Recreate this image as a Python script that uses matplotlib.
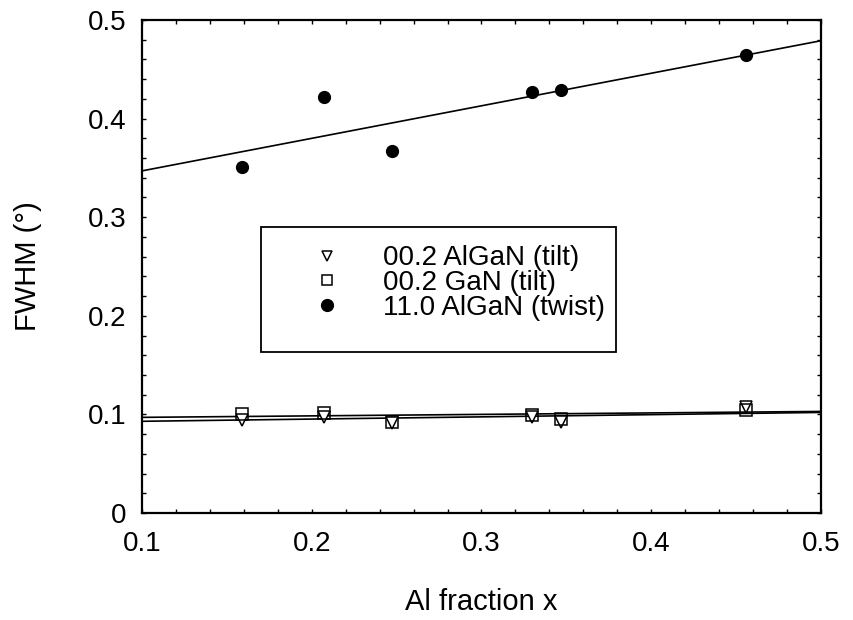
import numpy as np
import matplotlib
matplotlib.use("Agg")
import matplotlib.pyplot as plt
from matplotlib.patches import Rectangle
from matplotlib.ticker import MultipleLocator, FormatStrFormatter

plt.rcParams['font.family'] = ['Liberation Sans', 'DejaVu Sans']

# Al content of the samples
al_x = [0.159, 0.207, 0.2475, 0.330, 0.347, 0.456]

# FWHM of the rocking curves (degrees)
fwhm_algan_tilt = [0.094, 0.097, 0.091, 0.097, 0.092, 0.107]
fwhm_gan_tilt = [0.100, 0.101, 0.092, 0.099, 0.095, 0.104]
fwhm_algan_twist = [0.351, 0.422, 0.367, 0.427, 0.429, 0.465]

# linear fits, value at x = 0.1 and x = 0.5
fit_x = [0.1, 0.5]
fit_algan_tilt = [0.093, 0.102]
fit_gan_tilt = [0.097, 0.103]
fit_algan_twist = [0.347, 0.479]

labels = ['00.2 AlGaN (tilt)', '00.2 GaN (tilt)', '11.0 AlGaN (twist)']

fig = plt.figure(figsize=(8.54, 6.2), dpi=100)
ax = fig.add_axes([0.1663, 0.1726, 0.795, 0.7951])

for fy in (fit_algan_tilt, fit_gan_tilt, fit_algan_twist):
    ax.plot(fit_x, fy, color='black', lw=1.2, zorder=2)

ax.plot(al_x, fwhm_algan_tilt, ls='none', marker='v', ms=8, mfc='white',
        mec='black', mew=1.1, label=labels[0], zorder=3)
ax.plot(al_x, fwhm_gan_tilt, ls='none', marker='s', ms=9, mfc='none',
        mec='black', mew=1.1, label=labels[1], zorder=3)
ax.plot(al_x, fwhm_algan_twist, ls='none', marker='o', ms=8.5, mfc='black',
        mec='black', label=labels[2], zorder=3)

ax.set_xlim(0.1, 0.5)
ax.set_ylim(0, 0.5)
ax.xaxis.set_major_locator(MultipleLocator(0.1))
ax.xaxis.set_minor_locator(MultipleLocator(0.02))
ax.yaxis.set_major_locator(MultipleLocator(0.1))
ax.yaxis.set_minor_locator(MultipleLocator(0.02))
ax.yaxis.set_major_formatter(lambda v, p: '0' if abs(v) < 1e-9 else '%.1f' % v)
ax.xaxis.set_major_formatter(FormatStrFormatter('%.1f'))

ax.tick_params(which='both', direction='in', top=True, right=True,
               length=3, width=1, labelsize=20)
ax.tick_params(axis='x', pad=13)
ax.tick_params(axis='y', pad=11)
for s in ax.spines.values():
    s.set_linewidth(1.6)

ax.set_xlabel('Al fraction x', fontsize=21, labelpad=22)
ax.set_ylabel('FWHM (°)', fontsize=21)
ax.yaxis.set_label_coords(-0.147, 0.5)

# legend box
ax.add_patch(Rectangle((0.1753, 0.3266), 0.523, 0.2534, transform=ax.transAxes,
                       facecolor='white', edgecolor='black', lw=1.3, zorder=4))
leg = ax.legend(loc='upper left', bbox_to_anchor=(0.252, 0.543), frameon=False,
                fontsize=20, borderpad=0, handlelength=1.0, handletextpad=1.5,
                labelspacing=-0.05, borderaxespad=0)
leg.set_zorder(5)
for h, ms in zip(leg.legend_handles, (6.5, 7, 8.5)):
    h.set_markersize(ms)

fig.savefig('out.png', dpi=100)
